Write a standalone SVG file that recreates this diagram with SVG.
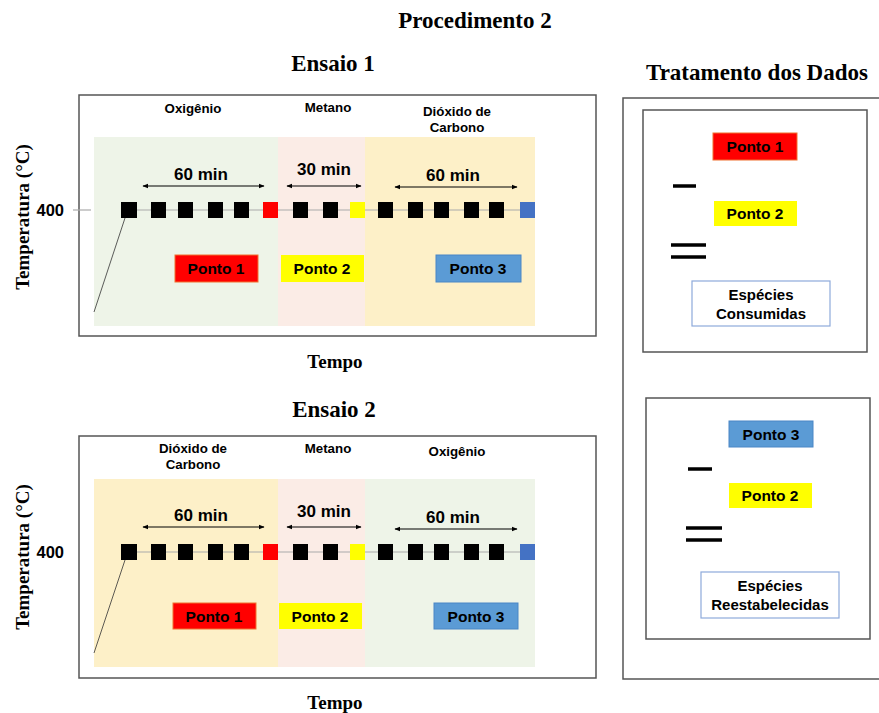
<svg xmlns="http://www.w3.org/2000/svg" width="879" height="713" viewBox="0 0 879 713">
<style>
.t{font-family:"Liberation Serif","Times New Roman",serif;font-weight:bold;fill:#000;text-anchor:middle}
.s{font-family:"Liberation Sans",Arial,sans-serif;font-weight:bold;fill:#000;text-anchor:middle}
.frame{fill:#fff;stroke:#555;stroke-width:1.5}
.sq{fill:#000}
.axis{stroke:#aaa;stroke-width:1.2}
.arr{stroke:#000;stroke-width:1.2;marker-start:url(#ah);marker-end:url(#ah)}
.p1{fill:#ff0000;stroke:#f07030;stroke-width:1}
.p2{fill:#ffff00;stroke:none}
.p3{fill:#5b9bd5;stroke:#4a86c5;stroke-width:1}
.op{stroke:#000;stroke-width:3.5}
.box{fill:#fff;stroke:#8eaadb;stroke-width:1.2}
.green{fill:#eef4e8}
.pink{fill:#fbece6}
.yel{fill:#fdf0c8}
.ttl{font-size:23px}
.tmp{font-size:19px}
.reg{font-size:13.3px}
.min{font-size:17px}
.pt{font-size:15.5px}
.lab{font-size:15px}
.v{font-size:16.5px;text-anchor:end}
</style>
<defs>
<marker id="ah" viewBox="0 0 10 10" refX="9" refY="5" markerWidth="6" markerHeight="6" orient="auto-start-reverse" markerUnits="userSpaceOnUse">
<path d="M0,1 L10,5 L0,9 z" fill="#000"/>
</marker>
</defs>
<rect width="879" height="713" fill="#fff"/>
<text class="t ttl" x="475" y="28">Procedimento 2</text>

<g id="ensaio1">
<text class="t ttl" x="333" y="71">Ensaio 1</text>
<rect class="frame" x="79" y="95" width="517" height="241"/>
<rect class="green" x="94" y="137" width="184" height="189"/>
<rect class="pink" x="278" y="137" width="87" height="189"/>
<rect class="yel" x="365" y="137" width="170" height="189"/>
<text class="s reg" x="193" y="113">Oxigênio</text>
<text class="s reg" x="328" y="112">Metano</text>
<text class="s reg" x="457" y="116">Dióxido de</text>
<text class="s reg" x="457" y="132">Carbono</text>
<line class="axis" x1="73" y1="210" x2="91" y2="210"/>
<line class="axis" x1="121" y1="210" x2="535" y2="210"/>
<line x1="94" y1="312" x2="125" y2="218" stroke="#333" stroke-width="0.8"/>
<text class="s v" x="64" y="216">400</text>
<text class="t tmp" transform="translate(29,217) rotate(-90)">Temperatura (°C)</text>
<rect class="sq" x="121" y="202" width="16" height="16"/>
<rect class="sq" x="151" y="202" width="15" height="16"/>
<rect class="sq" x="178" y="202" width="15" height="16"/>
<rect class="sq" x="208" y="202" width="15" height="16"/>
<rect class="sq" x="234" y="202" width="15" height="16"/>
<rect x="263" y="202" width="15" height="16" fill="#ff0000"/>
<rect class="sq" x="293" y="202" width="15" height="16"/>
<rect class="sq" x="323" y="202" width="15" height="16"/>
<rect x="350" y="202" width="15" height="16" fill="#ffff00"/>
<rect class="sq" x="378" y="202" width="15" height="16"/>
<rect class="sq" x="408" y="202" width="15" height="16"/>
<rect class="sq" x="434" y="202" width="15" height="16"/>
<rect class="sq" x="464" y="202" width="15" height="16"/>
<rect class="sq" x="489" y="202" width="15" height="16"/>
<rect x="520" y="202" width="15" height="16" fill="#4472c4"/>
<text class="s min" x="201" y="180">60 min</text>
<text class="s min" x="324" y="175">30 min</text>
<text class="s min" x="453" y="181">60 min</text>
<rect class="p1" x="175" y="255" width="83" height="27"/>
<text class="s pt" x="216" y="274">Ponto 1</text>
<rect class="p2" x="281" y="255" width="83" height="27"/>
<text class="s pt" x="322" y="274">Ponto 2</text>
<rect class="p3" x="436" y="255" width="85" height="27"/>
<text class="s pt" x="478" y="274">Ponto 3</text>
<text class="t tmp" x="335" y="368">Tempo</text>
</g>

<g id="ensaio2">
<text class="t ttl" x="334" y="417">Ensaio 2</text>
<rect class="frame" x="79" y="436" width="517" height="242"/>
<rect class="yel" x="94" y="479" width="184" height="188"/>
<rect class="pink" x="278" y="479" width="87" height="188"/>
<rect class="green" x="365" y="479" width="170" height="188"/>
<text class="s reg" x="193" y="453">Dióxido de</text>
<text class="s reg" x="193" y="469">Carbono</text>
<text class="s reg" x="328" y="453">Metano</text>
<text class="s reg" x="457" y="456">Oxigênio</text>
<line class="axis" x1="121" y1="552" x2="535" y2="552"/>
<line x1="94" y1="653" x2="125" y2="560" stroke="#333" stroke-width="0.8"/>
<text class="s v" x="64" y="558">400</text>
<text class="t tmp" transform="translate(29,557) rotate(-90)">Temperatura (°C)</text>
<rect class="sq" x="121" y="544" width="16" height="16"/>
<rect class="sq" x="151" y="544" width="15" height="16"/>
<rect class="sq" x="178" y="544" width="15" height="16"/>
<rect class="sq" x="208" y="544" width="15" height="16"/>
<rect class="sq" x="234" y="544" width="15" height="16"/>
<rect x="263" y="544" width="15" height="16" fill="#ff0000"/>
<rect class="sq" x="293" y="544" width="15" height="16"/>
<rect class="sq" x="323" y="544" width="15" height="16"/>
<rect x="350" y="544" width="15" height="16" fill="#ffff00"/>
<rect class="sq" x="378" y="544" width="15" height="16"/>
<rect class="sq" x="408" y="544" width="15" height="16"/>
<rect class="sq" x="434" y="544" width="15" height="16"/>
<rect class="sq" x="464" y="544" width="15" height="16"/>
<rect class="sq" x="489" y="544" width="15" height="16"/>
<rect x="520" y="544" width="15" height="16" fill="#4472c4"/>
<text class="s min" x="201" y="521">60 min</text>
<text class="s min" x="324" y="517">30 min</text>
<text class="s min" x="453" y="523">60 min</text>
<rect class="p1" x="173" y="603" width="83" height="26"/>
<text class="s pt" x="214" y="621.5">Ponto 1</text>
<rect class="p2" x="279" y="603" width="83" height="26"/>
<text class="s pt" x="320" y="621.5">Ponto 2</text>
<rect class="p3" x="434" y="603" width="84" height="26"/>
<text class="s pt" x="476" y="621.5">Ponto 3</text>
<text class="t tmp" x="335" y="709">Tempo</text>
</g>

<g id="tratamento">
<text class="t ttl" x="757" y="80">Tratamento dos Dados</text>
<rect class="frame" x="623" y="98" width="262" height="581"/>
</g>

<g id="consumidas">
<rect class="frame" x="643" y="110" width="224" height="242"/>
<rect class="p1" x="713" y="133" width="84" height="27"/>
<text class="s pt" x="755" y="152">Ponto 1</text>
<rect class="p2" x="714" y="201" width="83" height="25"/>
<text class="s pt" x="755" y="219">Ponto 2</text>
<rect class="box" x="692" y="281" width="138" height="45"/>
<text class="s lab" x="761" y="300">Espécies</text>
<text class="s lab" x="761" y="319">Consumidas</text>
</g>

<g id="reestabelecidas">
<rect class="frame" x="646" y="398" width="224" height="241"/>
<rect class="p3" x="729" y="421" width="84" height="26"/>
<text class="s pt" x="771" y="439.5">Ponto 3</text>
<rect class="p2" x="729" y="483" width="83" height="25"/>
<text class="s pt" x="770" y="501">Ponto 2</text>
<rect class="box" x="701" y="572" width="138" height="46"/>
<text class="s lab" x="770" y="591">Espécies</text>
<text class="s lab" x="770" y="610">Reestabelecidas</text>
</g>

<g id="connectors">
<line class="arr" x1="143" y1="186" x2="264" y2="186"/>
<line class="arr" x1="287" y1="186" x2="361" y2="186"/>
<line class="arr" x1="395" y1="187" x2="517" y2="187"/>
<line class="arr" x1="143" y1="527" x2="264" y2="527"/>
<line class="arr" x1="287" y1="527" x2="361" y2="527"/>
<line class="arr" x1="395" y1="529" x2="517" y2="529"/>
<line class="op" x1="673" y1="186" x2="696" y2="186"/>
<line class="op" x1="671" y1="245" x2="706" y2="245"/>
<line class="op" x1="671" y1="257" x2="706" y2="257"/>
<line class="op" x1="688" y1="469" x2="712" y2="469"/>
<line class="op" x1="686" y1="528" x2="722" y2="528"/>
<line class="op" x1="686" y1="540" x2="722" y2="540"/>
</g>
</svg>
